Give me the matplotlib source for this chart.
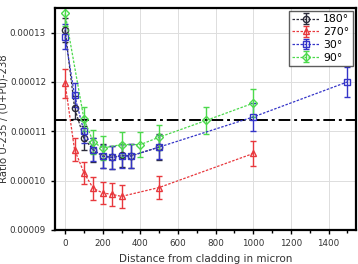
import numpy as np
import matplotlib.pyplot as plt
from matplotlib.ticker import FormatStrFormatter, MultipleLocator

# ---- data ----
x_180 = [0, 50, 100, 150, 200, 250, 300, 350, 500]
y_180 = [1.305e-4, 1.148e-4, 1.086e-4, 1.062e-4, 1.050e-4, 1.047e-4, 1.051e-4, 1.050e-4, 1.068e-4]
e_180 = [2.5e-6, 2.4e-6, 2.4e-6, 2.4e-6, 2.4e-6, 2.4e-6, 2.4e-6, 2.4e-6, 2.6e-6]

x_270 = [0, 50, 100, 150, 200, 250, 300, 500, 1000]
y_270 = [1.197e-4, 1.063e-4, 1.016e-4, 0.984e-4, 0.975e-4, 0.972e-4, 0.968e-4, 0.986e-4, 1.055e-4]
e_270 = [3.0e-6, 2.4e-6, 2.2e-6, 2.3e-6, 2.3e-6, 2.3e-6, 2.3e-6, 2.4e-6, 2.6e-6]

x_30 = [0, 50, 100, 150, 200, 250, 300, 350, 500, 1000, 1500]
y_30 = [1.292e-4, 1.173e-4, 1.100e-4, 1.063e-4, 1.049e-4, 1.047e-4, 1.050e-4, 1.050e-4, 1.068e-4, 1.129e-4, 1.200e-4]
e_30 = [2.5e-6, 2.4e-6, 2.4e-6, 2.4e-6, 2.4e-6, 2.4e-6, 2.4e-6, 2.4e-6, 2.5e-6, 2.8e-6, 3.0e-6]

x_90 = [0, 100, 150, 200, 300, 400, 500, 750, 1000]
y_90 = [1.339e-4, 1.125e-4, 1.078e-4, 1.066e-4, 1.073e-4, 1.073e-4, 1.088e-4, 1.122e-4, 1.157e-4]
e_90 = [2.5e-6, 2.5e-6, 2.5e-6, 2.5e-6, 2.5e-6, 2.5e-6, 2.5e-6, 2.7e-6, 2.8e-6]

ref_level = 1.122e-4

labels = ['180°', '270°', '30°', '90°']

fig = plt.figure(figsize=(3.58, 2.64), dpi=100)
ax = fig.add_axes([0.154, 0.129, 0.840, 0.841])

series = [
    (x_180, y_180, e_180, '#2b2b3a', 'o'),
    (x_270, y_270, e_270, '#e8383d', '^'),
    (x_30, y_30, e_30, '#3434c8', 's'),
    (x_90, y_90, e_90, '#4cd94c', 'D'),
]
for (xs, ys, es, col, mk), lab in zip(series, labels):
    ax.errorbar(xs, ys, yerr=es, color=col, linestyle=(0, (2, 1.2)), linewidth=0.9,
                marker=mk, markersize=4.5 if mk != 'D' else 4, markerfacecolor='none',
                markeredgewidth=1.0, elinewidth=1.0, capsize=2.5, capthick=1.0, label=lab)

ax.axhline(ref_level, color='black', linestyle=(0, (6, 2, 1.5, 2)), linewidth=1.4)

ax.set_xlim(-53, 1545)
ax.set_ylim(0.00009, 0.000135)
ax.xaxis.set_major_locator(MultipleLocator(200))
ax.xaxis.set_minor_locator(MultipleLocator(100))
ax.yaxis.set_major_locator(MultipleLocator(0.00001))
ax.yaxis.set_major_formatter(FormatStrFormatter('%.5f'))
ax.grid(True, color='#dddddd', linewidth=0.7)
ax.set_axisbelow(True)
for s in ax.spines.values():
    s.set_linewidth(1.6)
ax.tick_params(axis='both', labelsize=6.3, colors='black', labelcolor='#333333', width=1.0, length=3)
ax.tick_params(axis='x', which='minor', length=2, width=1.0)

ax.set_xlabel('Distance from cladding in micron', fontsize=7.5, color='#333333', labelpad=4)
ax.set_ylabel('Ratio U-235 / (U+Pu)-238', fontsize=7.3, color='#333333')
ax.yaxis.set_label_coords(-0.155, 0.5)

leg = ax.legend(loc='upper right', fontsize=7.8, frameon=True, fancybox=False, edgecolor='#333333',
                handlelength=2.6, handletextpad=0.3, borderpad=0.3, labelspacing=0.25,
                borderaxespad=0.3)
leg.get_frame().set_linewidth(1.0)

fig.savefig('out.png', dpi=100)
